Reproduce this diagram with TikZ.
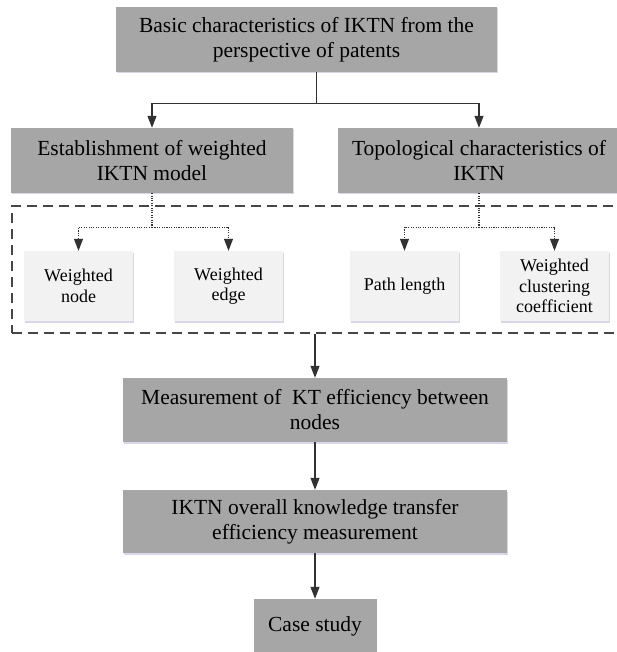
\documentclass[tikz,border=0pt]{standalone}
\usepackage{fontspec}
\setmainfont{Liberation Serif}
\usepackage{tikz}
\usetikzlibrary{positioning,calc,arrows.meta,shadows}
\definecolor{boxgray}{RGB}{166,166,166}
\definecolor{leafgray}{RGB}{242,242,242}
\definecolor{lineg}{RGB}{50,50,50}
\definecolor{dashg}{RGB}{70,70,70}

\begin{document}
\begin{tikzpicture}[
    x=1pt, y=-1pt,
    font=\rmfamily\fontsize{21.5}{25}\selectfont,
    box/.style={align=center, inner sep=0pt,
      drop shadow={shadow xshift=0.5pt, shadow yshift=-1.5pt, opacity=0.25, fill=blue!25!gray}},
    main/.style={box, fill=boxgray, minimum height=65pt},
    leaf/.style={box, fill=leafgray, minimum width=109pt, minimum height=70pt,
      font=\rmfamily\fontsize{18}{20.5}\selectfont},
    dashframe/.style={draw=dashg, line width=1.5pt, dash pattern=on 10pt off 6pt},
    line/.style={draw=lineg, line width=1.1pt},
    arr/.style={line, -{Triangle[length=12pt,width=9pt]}},
    dotline/.style={line, dash pattern=on 1.1pt off 1.3pt},
    dotarr/.style={dotline, -{Triangle[length=12pt,width=9pt]}}
  ]
  \useasboundingbox (0,0) rectangle (617,652);
  \clip (0,0) rectangle (617,652);
  % top level
  \node[main, minimum width=381pt] (basic) at (306.5,39.5) {Basic characteristics of IKTN from the\\perspective of patents};
  \node[main, minimum width=282pt] (estab) at (152,160.5) {Establishment of weighted\\IKTN model};
  \node[main, minimum width=282pt] (topo) at (479,160.5) {Topological characteristics of\\IKTN};
  % dashed group with the four leaves
  \node[dashframe, minimum width=613pt, minimum height=127pt] (group) at (318.5,269.5) {};
  \node[leaf] (wnode) at (78.5,286) {Weighted\\node};
  \node[leaf] (wedge) at (228.5,286) {Weighted\\edge};
  \node[leaf] (plen) at (404.5,286) {Path length};
  \node[leaf] (wclust) at (554.5,286) {Weighted\\clustering\\coefficient};
  % lower chain
  \node[main, minimum width=384pt, minimum height=64pt] (meas) at (315,410) {Measurement of~ KT efficiency between\\nodes};
  \node[main, minimum width=384pt, minimum height=63pt] (overall) at (315,521.5) {IKTN overall knowledge transfer\\efficiency measurement};
  \node[main, minimum width=123pt, minimum height=54pt] (case) at (315,626) {Case study};
  % edges
  \draw[line] ([xshift=10pt]basic.south) -- ++(0,31) coordinate (split);
  \draw[arr] (split) -| (estab.north);
  \draw[arr] (split) -| (topo.north);
  \draw[dotline] (estab.south) -- ++(0,34) coordinate (lsplit);
  \draw[dotarr] (lsplit) -| (wnode.north);
  \draw[dotarr] (lsplit) -| (wedge.north);
  \draw[dotline] (topo.south) -- ++(0,34) coordinate (rsplit);
  \draw[dotarr] (rsplit) -| (plen.north);
  \draw[dotarr] (rsplit) -| (wclust.north);
  \draw[arr] (meas.north |- group.south) -- (meas.north);
  \draw[arr] (meas) -- (overall);
  \draw[arr] (overall) -- (case);
\end{tikzpicture}
\end{document}
